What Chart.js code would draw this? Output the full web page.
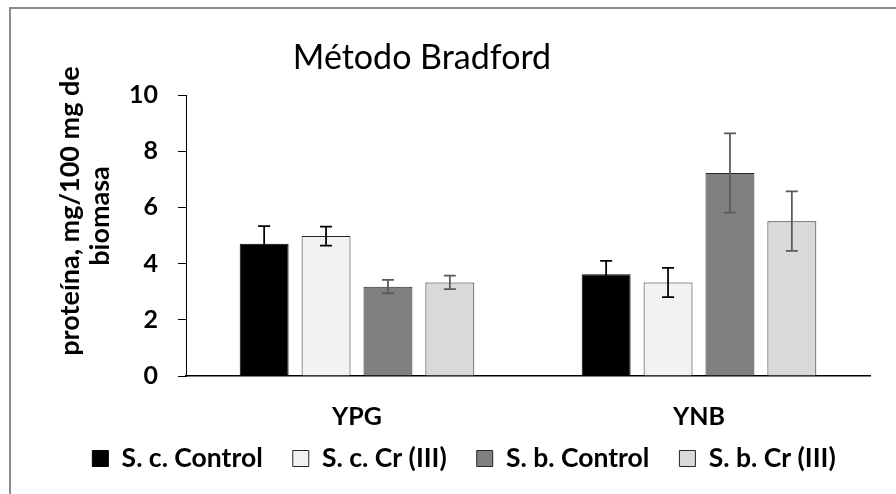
<!DOCTYPE html>
<html>
<head>
<meta charset="utf-8">
<script src="https://cdn.jsdelivr.net/npm/chart.js@4"></script>
<style>
  html, body { margin: 0; padding: 0; background: #fff; }
  #wrap { position: relative; width: 896px; height: 494px; overflow: hidden; }
  #frame { position: absolute; left: 9px; top: 7px; width: 900px; height: 500px;
           border-left: 2px solid #8c8c8c; border-top: 2px solid #8c8c8c; pointer-events: none; }
  canvas { position: absolute; left: 0; top: 0; }
</style>
</head>
<body>
<div id="wrap">
  <canvas id="c" width="896" height="494"></canvas>
  <div id="frame"></div>
</div>
<script>
const categories = ['YPG', 'YNB'];
const seriesNames = ['S. c. Control', 'S. c. Cr (III)', 'S. b. Control', 'S. b. Cr (III)'];
const scControl = [4.71, 3.62];
const scControlErr = [0.62, 0.48];
const scCr = [4.98, 3.33];
const scCrErr = [0.34, 0.52];
const sbControl = [3.18, 7.22];
const sbControlErr = [0.24, 1.41];
const sbCr = [3.33, 5.51];
const sbCrErr = [0.24, 1.06];
const yTicks = [0, 2, 4, 6, 8, 10];
const chartTitle = 'Método Bradford';
const yTitle = ['proteína, mg/100 mg de', 'biomasa'];

const FONT = 'Lato';
const fills = ['#000000', '#f2f2f2', '#808080', '#d9d9d9'];
const edges = ['#000000', '#262626', '#262626', '#262626'];
const errColors = ['#000000', '#000000', '#595959', '#595959'];
const values = [scControl, scCr, sbControl, sbCr];
const errors = [scControlErr, scCrErr, sbControlErr, sbCrErr];

const datasets = seriesNames.map((n, i) => ({
  label: n,
  data: values[i],
  errors: errors[i],
  errColor: errColors[i],
  backgroundColor: fills[i],
  borderColor: edges[i],
  borderWidth: 1,
  categoryPercentage: 0.724,
  barPercentage: 0.79
}));

const errorBars = {
  id: 'errorBars',
  afterDatasetsDraw(chart) {
    const ctx = chart.ctx;
    const y = chart.scales.y;
    chart.data.datasets.forEach((ds, i) => {
      const meta = chart.getDatasetMeta(i);
      meta.data.forEach((bar, j) => {
        const v = ds.data[j], e = ds.errors[j];
        const yt = y.getPixelForValue(v + e);
        const yb = y.getPixelForValue(v - e);
        const x = bar.x;
        ctx.save();
        ctx.strokeStyle = ds.errColor;
        ctx.lineWidth = 1.75;
        ctx.beginPath();
        ctx.moveTo(x, yt); ctx.lineTo(x, yb);
        ctx.moveTo(x - 6, yt); ctx.lineTo(x + 6, yt);
        ctx.moveTo(x - 6, yb); ctx.lineTo(x + 6, yb);
        ctx.stroke();
        ctx.restore();
      });
    });
  }
};

// let the category labels overhang into the legend band without being clipped
const labelRoom = {
  id: 'labelRoom',
  afterLayout(chart) {
    const x = chart.scales.x;
    x.bottom = x.top + 60;
  }
};

const textPlugin = {
  id: 'textPlugin',
  afterDraw(chart) {
    const ctx = chart.ctx;
    ctx.save();
    ctx.font = '34px ' + FONT;
    ctx.fillStyle = '#000';
    ctx.textAlign = 'center';
    ctx.textBaseline = 'middle';
    ctx.fillText(chartTitle, 422, 58);
    ctx.restore();

    // y-axis title (two lines, rotated)
    ctx.save();
    ctx.font = 'bold 27px ' + FONT;
    ctx.fillStyle = '#000';
    ctx.textAlign = 'center';
    ctx.textBaseline = 'middle';
    const pos = [[70, 211], [100, 216]];
    yTitle.forEach((t, i) => {
      ctx.save();
      ctx.translate(pos[i][0], pos[i][1]);
      ctx.rotate(-Math.PI / 2);
      ctx.fillText(t, 0, 0);
      ctx.restore();
    });
    ctx.restore();
  }
};

new Chart(document.getElementById('c'), {
  type: 'bar',
  data: { labels: categories, datasets },
  plugins: [errorBars, textPlugin, labelRoom],
  options: {
    responsive: false,
    animation: false,
    devicePixelRatio: 1,
    layout: { padding: { left: 58, right: 26, top: 95, bottom: 12.25 } },
    plugins: {
      title: { display: false },
      tooltip: { enabled: false },
      legend: {
        position: 'bottom',
        labels: {
          boxWidth: 16,
          boxHeight: 16,
          padding: 30,
          color: '#000',
          font: { family: FONT, size: 26.5, weight: 'bold' }
        }
      }
    },
    scales: {
      x: {
        grid: { display: false, drawTicks: false },
        border: { display: true, color: '#000', width: 1.5 },
        ticks: { color: '#000', padding: 26, font: { family: FONT, size: 25, weight: 'bold' } },
        afterFit(s) { s.height = 39.25; }
      },
      y: {
        min: 0,
        max: 10,
        afterBuildTicks(s) { s.ticks = yTicks.map(v => ({ value: v })); },
        grid: { display: true, drawOnChartArea: false, drawTicks: true, tickLength: 8, color: '#000', lineWidth: 1 },
        border: { display: true, color: '#000', width: 1 },
        ticks: { color: '#000', padding: 20, font: { family: FONT, size: 25, weight: 'bold' } },
        title: { display: false },
        afterFit(s) { s.width = 128; }
      }
    }
  }
});
</script>
</body>
</html>
